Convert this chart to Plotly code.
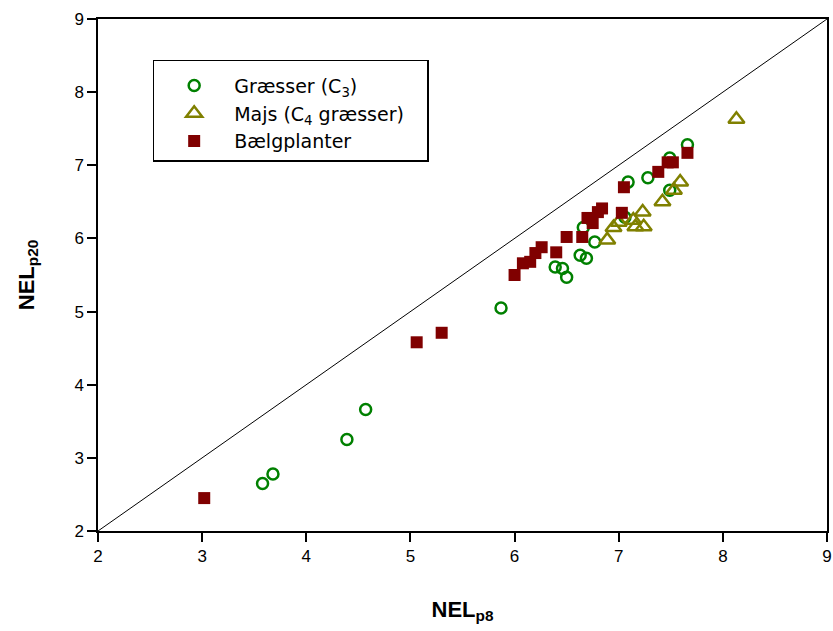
import plotly.graph_objects as go

# Græsser (C3)
grass_x = [3.58, 3.68, 4.39, 4.57, 5.87, 6.39, 6.46, 6.50, 6.63, 6.69, 6.66, 6.77, 7.06, 7.09, 7.28, 7.49, 7.49, 7.66]
grass_y = [2.65, 2.78, 3.25, 3.66, 5.05, 5.61, 5.59, 5.47, 5.77, 5.73, 6.15, 5.95, 6.29, 6.77, 6.83, 6.66, 7.10, 7.28]

# Majs (C4 græsser)
maize_x = [6.89, 6.95, 7.00, 7.14, 7.16, 7.24, 7.23, 7.42, 7.53, 7.59, 8.13]
maize_y = [5.98, 6.15, 6.22, 6.25, 6.16, 6.16, 6.36, 6.50, 6.66, 6.77, 7.63]

# Bælgplanter
legume_x = [3.02, 5.06, 5.30, 6.00, 6.08, 6.15, 6.20, 6.26, 6.40, 6.50, 6.65, 6.70, 6.75, 6.80, 6.84, 7.03, 7.05, 7.38, 7.47, 7.52, 7.66]
legume_y = [2.45, 4.58, 4.71, 5.50, 5.66, 5.68, 5.80, 5.88, 5.81, 6.02, 6.02, 6.28, 6.21, 6.36, 6.41, 6.35, 6.70, 6.91, 7.04, 7.04, 7.17]

line_x = [2, 9]
line_y = [2, 9]
ticks = [2, 3, 4, 5, 6, 7, 8, 9]

fig = go.Figure()
fig.add_trace(go.Scatter(x=line_x, y=line_y, mode="lines",
                         line=dict(color="black", width=1), showlegend=False, hoverinfo="skip"))
fig.add_trace(go.Scatter(x=grass_x, y=grass_y, mode="markers", name="Græsser (C<sub>3</sub>)",
                         marker=dict(symbol="circle-open", size=11, color="#008000", line=dict(width=2.5))))
fig.add_trace(go.Scatter(x=maize_x, y=maize_y, mode="markers", name="Majs (C<sub>4</sub> græsser)&nbsp;&nbsp;&nbsp;",
                         marker=dict(symbol="triangle-up-open", size=14, color="#808000", line=dict(width=2.5))))
fig.add_trace(go.Scatter(x=legume_x, y=legume_y, mode="markers", name="Bælgplanter",
                         marker=dict(symbol="square", size=12, color="#800000")))

axis_common = dict(range=[2, 9], tickvals=ticks, showgrid=False, zeroline=False,
                   showline=True, linecolor="black", linewidth=1.5, mirror=True,
                   ticks="outside", ticklen=9, tickcolor="black", tickwidth=1.5,
                   automargin=False, ticklabeloverflow="allow",
                   tickfont=dict(family="Arial, Liberation Sans", size=17, color="black"))

fig.update_layout(
    width=833, height=631,
    margin=dict(l=98, r=6, t=19, b=100),
    paper_bgcolor="white", plot_bgcolor="white",
    font=dict(family="Arial, Liberation Sans", color="black"),
    xaxis=dict(**axis_common,
               title=dict(text="<b>NEL<sub>p8</sub></b>", font=dict(size=22), standoff=36)),
    yaxis=dict(**axis_common,
               title=dict(text="<b>NEL<sub>p20</sub></b>", font=dict(size=22), standoff=34)),
    legend=dict(x=0.075, y=0.92, xanchor="left", yanchor="top",
                bordercolor="black", borderwidth=1.5, bgcolor="white",
                font=dict(family="DejaVu Sans", size=19, color="black"),
                title=dict(text="&nbsp;", font=dict(size=4)),
                itemwidth=70, tracegroupgap=0),
)

fig.write_html("out.html")
